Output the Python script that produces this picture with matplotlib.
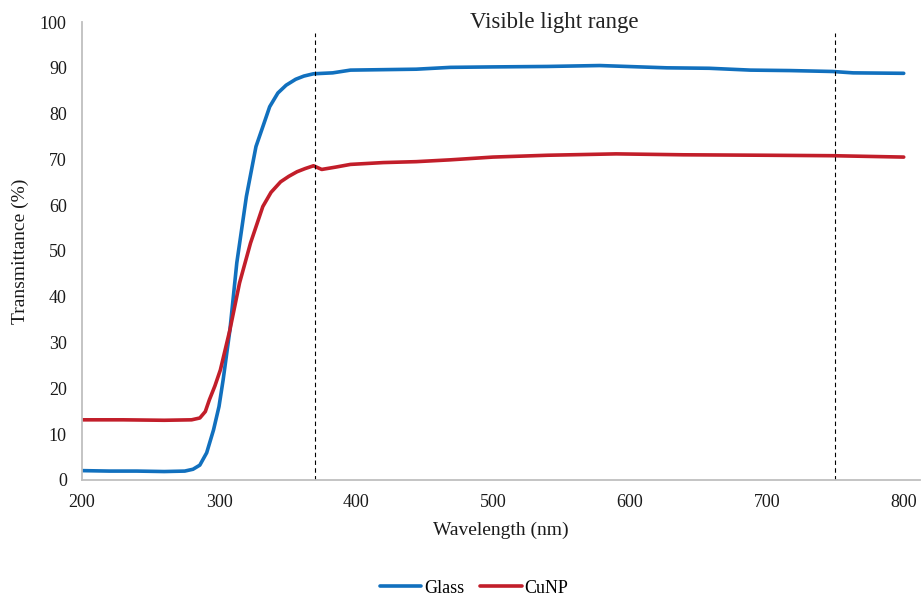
import matplotlib.pyplot as plt

# Glass transmittance
glass_wl = [200, 220, 240, 260, 275, 281, 286, 291, 296, 300, 303, 308, 313, 320,
            327, 333, 337, 343, 349, 356, 362, 369, 383, 396, 420, 444, 469, 500,
            540, 578, 627, 658, 688, 717, 748, 763, 800]
glass_t = [2.0, 1.9, 1.9, 1.8, 1.9, 2.3, 3.2, 5.9, 10.9, 16.0, 21.8, 32.8, 47.4, 61.9,
           72.8, 78.0, 81.5, 84.5, 86.2, 87.5, 88.2, 88.7, 88.9, 89.5, 89.6, 89.7, 90.1, 90.2,
           90.3, 90.5, 90.0, 89.9, 89.5, 89.4, 89.2, 88.9, 88.8]

# CuNP transmittance
cunp_wl = [200, 230, 260, 280, 286, 290, 293, 297, 301, 308, 315, 323, 332, 338,
           345, 351, 357, 363, 369, 375, 385, 396, 420, 444, 469, 500, 540, 590,
           639, 699, 748, 800]
cunp_t = [13.1, 13.1, 13.0, 13.1, 13.5, 14.9, 17.5, 20.5, 24.0, 32.8, 43.0, 51.7, 59.7, 62.8,
          65.1, 66.3, 67.3, 68.0, 68.6, 67.8, 68.3, 68.9, 69.3, 69.5, 69.9, 70.5, 70.9, 71.2,
          71.0, 70.9, 70.8, 70.5]

visible_edges = [370, 750]
x_ticks = [200, 300, 400, 500, 600, 700, 800]
y_ticks = [0, 10, 20, 30, 40, 50, 60, 70, 80, 90, 100]

plt.rcParams['font.family'] = ['Liberation Serif', 'DejaVu Serif']

fig = plt.figure(figsize=(9.22, 5.96), dpi=100)
ax = fig.add_axes([0.089, 0.195, 0.909, 0.768])

ax.plot(glass_wl, glass_t, color='#1170BE', lw=2.6, label='Glass', solid_capstyle='round')
ax.plot(cunp_wl, cunp_t, color='#C21E2A', lw=2.6, label='CuNP', solid_capstyle='round')

for x in visible_edges:
    ax.vlines(x, 0, 97.5, colors='black', linestyles=(0, (4, 3)), lw=0.8)

ax.text(545, 100, 'Visible light range', fontsize=16.5, ha='center', va='center',
        color='#222222')

ax.set_xlim(200, 812)
ax.set_ylim(0, 100)
ax.set_xticks(x_ticks)
ax.set_yticks(y_ticks)
ax.tick_params(length=0, labelsize=13, colors='#1a1a1a')
ax.tick_params(axis='y', pad=11)
ax.tick_params(axis='x', pad=10)

for s in ['top', 'right']:
    ax.spines[s].set_visible(False)
for s in ['left', 'bottom']:
    ax.spines[s].set_color('#BFBFBF')
    ax.spines[s].set_linewidth(1.3)

ax.set_xlabel('Wavelength (nm)', fontsize=14, color='#1a1a1a', labelpad=8)
ax.set_ylabel('Transmittance (%)', fontsize=14, color='#1a1a1a', labelpad=8)

fig.legend(loc='center', bbox_to_anchor=(0.514, 0.013), ncol=2, frameon=False,
           fontsize=13, handlelength=2.3, handletextpad=0.15, columnspacing=0.9)

fig.savefig('out.png', dpi=100)
